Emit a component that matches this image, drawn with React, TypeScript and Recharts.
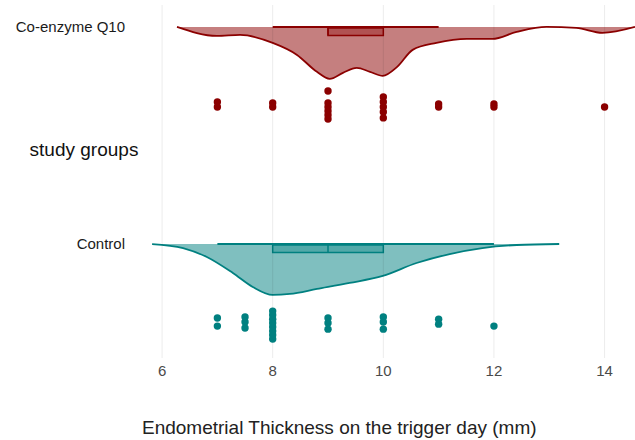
import React from 'react';
import {
  ComposedChart,
  Area,
  Scatter,
  XAxis,
  YAxis,
  ReferenceArea,
  ReferenceLine,
} from 'recharts';

// ---- Groups (y positions on the group axis) ----
const GROUP_NAMES = ['Control', 'Co-enzyme Q10'];
const GROUP_POS = [1, 2];

// ---- X axis ticks ----
const X_TICKS = [6, 8, 10, 12, 14];

// ---- Half-violin density (x in mm, relative height) ----
const coqDensityX = [6.27, 6.99, 7.41, 8.0, 8.44, 8.8, 9.03, 9.27, 9.52, 9.76, 9.99, 10.25, 10.53, 10.96, 11.51, 11.97, 12.41, 12.95, 13.49, 13.96, 14.55];
const coqDensityH = [0, 0.09, 0.08, 0.16, 0.28, 0.45, 0.52, 0.46, 0.41, 0.45, 0.49, 0.4, 0.23, 0.16, 0.12, 0.12, 0.05, 0.0, 0.01, 0.06, 0.0];

const ctlDensityX = [5.82, 6.38, 6.81, 7.28, 7.64, 8.0, 8.31, 8.8, 9.39, 9.99, 10.6, 11.2, 11.79, 12.41, 13.18];
const ctlDensityH = [0, 0.04, 0.13, 0.29, 0.43, 0.51, 0.5, 0.45, 0.39, 0.32, 0.19, 0.1, 0.04, 0.01, 0];

// ---- Box plot statistics: [whiskerLow, Q1, median, Q3, whiskerHigh] ----
const coqBox = [8, 9, 9, 10, 11];
const ctlBox = [7, 8, 9, 10, 12];

// ---- Raw observations (x in mm) with vertical jitter offset below group line ----
const coqPointsX = [7, 7, 8, 8, 9, 9, 9, 9, 9, 9, 10, 10, 10, 10, 10, 11, 11, 12, 12, 14];
const coqPointsJ = [0.346, 0.369, 0.35, 0.369, 0.295, 0.35, 0.369, 0.387, 0.406, 0.424, 0.323, 0.346, 0.369, 0.392, 0.419, 0.355, 0.369, 0.355, 0.369, 0.369];

const ctlPointsX = [7, 7, 7.5, 7.5, 7.5, 8, 8, 8, 8, 8, 8, 8, 8, 9, 9, 9, 10, 10, 10, 11, 11, 12];
const ctlPointsJ = [0.341, 0.378, 0.336, 0.359, 0.387, 0.309, 0.327, 0.346, 0.364, 0.382, 0.401, 0.419, 0.438, 0.341, 0.364, 0.392, 0.336, 0.359, 0.392, 0.346, 0.369, 0.378];

// ---- Styling / scaling constants ----
const DENSITY_SCALE = 0.46; // relative height -> group-axis units
const BOX_TOP_GAP = 0.005;
const BOX_HEIGHT = 0.034;
const COQ_COLOR = '#8B0000';
const CTL_COLOR = '#008080';
const FONT = '"Liberation Sans", Arial, sans-serif';

const COQ_Y = GROUP_POS[1];
const CTL_Y = GROUP_POS[0];

const coqDensity = coqDensityX.map((x, i) => ({ x, y: COQ_Y - coqDensityH[i] * DENSITY_SCALE }));
const ctlDensity = ctlDensityX.map((x, i) => ({ x, y: CTL_Y - ctlDensityH[i] * DENSITY_SCALE }));
const coqPoints = coqPointsX.map((x, i) => ({ x, y: COQ_Y - coqPointsJ[i] }));
const ctlPoints = ctlPointsX.map((x, i) => ({ x, y: CTL_Y - ctlPointsJ[i] }));

const makeDot = (color: string) => (props: any) => {
  const { cx, cy } = props;
  if (cx == null || cy == null) return <g />;
  return <circle cx={cx} cy={cy} r={3.7} fill={color} />;
};

function BoxPlot(stats: number[], y: number, color: string) {
  const [lo, q1, med, q3, hi] = stats;
  return [
    <ReferenceLine
      key={`w-${y}`}
      segment={[{ x: lo, y }, { x: hi, y }]}
      stroke={color}
      strokeWidth={2}
      ifOverflow="visible"
    />,
    <ReferenceArea
      key={`b-${y}`}
      x1={q1}
      x2={q3}
      y1={y - BOX_TOP_GAP}
      y2={y - BOX_TOP_GAP - BOX_HEIGHT}
      fill={color}
      fillOpacity={0.35}
      stroke={color}
      strokeWidth={1.5}
      strokeOpacity={1}
      ifOverflow="visible"
    />,
    <ReferenceLine
      key={`m-${y}`}
      segment={[{ x: med, y: y - BOX_TOP_GAP }, { x: med, y: y - BOX_TOP_GAP - BOX_HEIGHT }]}
      stroke={color}
      strokeWidth={1.5}
      ifOverflow="visible"
    />,
  ];
}

export default function App() {
  return (
    <div style={{ position: 'absolute', left: 0, top: 0, background: '#fff' }}>
      <ComposedChart
        width={635}
        height={440}
        margin={{ top: 5, right: 0, bottom: 0, left: 0 }}
      >
        <XAxis
          type="number"
          dataKey="x"
          domain={[5.8, 14.55]}
          ticks={X_TICKS}
          allowDataOverflow
          axisLine={false}
          tickLine={false}
          tickSize={0}
          tickMargin={7}
          height={82}
          tick={{ fill: '#4a4a4a', fontSize: 15, fontFamily: FONT }}
          label={{
            content: (p: any) => {
              const vb = p.viewBox || { x: 151, y: 358 };
              return (
                <text x={vb.x - 9} y={vb.y + 76} fill="#222" fontSize={19} fontFamily={FONT} textAnchor="start">
                  Endometrial Thickness on the trigger day (mm)
                </text>
              );
            },
          }}
        />
        <YAxis
          type="number"
          dataKey="y"
          domain={[0.475, 2.101]}
          ticks={GROUP_POS}
          allowDataOverflow
          axisLine={false}
          tickLine={false}
          tickSize={0}
          tickMargin={26}
          width={151}
          tickFormatter={(v: number) => GROUP_NAMES[GROUP_POS.indexOf(v)] ?? ''}
          tick={{ fill: '#1a1a1a', fontSize: 15, fontFamily: FONT }}
          label={{
            content: (p: any) => {
              const vb = p.viewBox || { x: 0, y: 5 };
              return (
                <text x={vb.x + 84} y={vb.y + 151} fill="#111" fontSize={19} fontFamily={FONT} textAnchor="middle">
                  study groups
                </text>
              );
            },
          }}
        />
        {X_TICKS.map((t) => (
          <ReferenceLine key={`g-${t}`} x={t} stroke="#000" strokeOpacity={0.08} strokeWidth={1} />
        ))}
        <Area
          data={coqDensity}
          dataKey="y"
          type="monotone"
          baseValue={COQ_Y}
          stroke={COQ_COLOR}
          strokeWidth={1.8}
          fill={COQ_COLOR}
          fillOpacity={0.5}
          isAnimationActive={false}
          dot={false}
          activeDot={false}
        />
        <Area
          data={ctlDensity}
          dataKey="y"
          type="monotone"
          baseValue={CTL_Y}
          stroke={CTL_COLOR}
          strokeWidth={1.8}
          fill={CTL_COLOR}
          fillOpacity={0.5}
          isAnimationActive={false}
          dot={false}
          activeDot={false}
        />
        {BoxPlot(coqBox, COQ_Y, COQ_COLOR)}
        {BoxPlot(ctlBox, CTL_Y, CTL_COLOR)}
        <Scatter data={coqPoints} dataKey="y" shape={makeDot(COQ_COLOR)} isAnimationActive={false} />
        <Scatter data={ctlPoints} dataKey="y" shape={makeDot(CTL_COLOR)} isAnimationActive={false} />
      </ComposedChart>
    </div>
  );
}
